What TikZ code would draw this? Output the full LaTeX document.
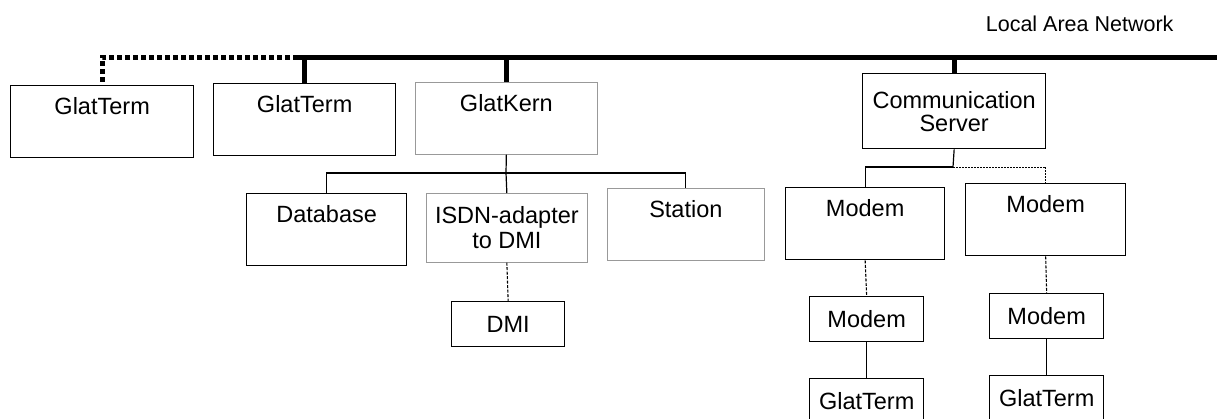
\documentclass[tikz,border=0pt]{standalone}
\usepackage{fontspec}
\setmainfont{Liberation Sans}
\usepackage{tikz}
\usetikzlibrary{positioning}

\tikzset{
  unitbox/.style={draw, line width=1.3pt, inner sep=0pt, anchor=north west},
  tallbox/.style={unitbox, text height=29pt, text depth=43pt},
  twolinebox/.style={unitbox, align=center},
  smallbox/.style={unitbox, minimum width=114pt, minimum height=45pt},
  faint/.style={draw=black!40, line width=0.7pt},
  link/.style={line width=1.2pt},
  lan/.style={line width=5pt},
  landots/.style={line width=5pt, dash pattern=on 5pt off 3pt},
  dial/.style={line width=1.1pt, dash pattern=on 3pt off 1.5pt},
  spare/.style={line width=1pt, dash pattern=on 1.5pt off 1.5pt}
}

\begin{document}
\begin{tikzpicture}[x=1pt, y=-1pt, every node/.style={font=\fontsize{23.5}{25}\selectfont}]
  \useasboundingbox (0,0) rectangle (1217,418);
  \clip (0,0) rectangle (1217,418);

  % LAN
  \coordinate (lanL) at (298,57);
  \coordinate (lanR) at (1217,57);
  \node[anchor=base east, font=\fontsize{21.5}{24}\selectfont] (lanlabel) at (1177,31) {Local Area Network};

  % first row
  \node[tallbox, minimum width=183pt] (gt1) at (10,85) {GlatTerm};
  \node[tallbox, minimum width=182pt] (gt2) at (213,83) {GlatTerm};
  \node[tallbox, faint, minimum width=182pt] (gk) at (415,82) {GlatKern};
  \node[twolinebox, minimum width=183pt, minimum height=75pt] (cs) at (862,73) {Communication\\[-2pt]Server};

  % below GlatKern
  \node[tallbox, minimum width=160pt] (db) at (246,193) {Database};
  \node[twolinebox, faint, minimum width=161pt, minimum height=69pt] (isdn) at (426,193) {ISDN-adapter\\to DMI};
  \node[tallbox, faint, minimum width=157pt] (st) at (607,188) {Station};
  \node[smallbox, minimum width=113pt] (dmi) at (451,301) {DMI};

  % below Communication Server
  \node[tallbox, minimum width=159pt] (m1) at (785,187) {Modem};
  \node[tallbox, minimum width=160pt] (m2) at (965,183) {Modem};
  \node[smallbox] (sm1) at (809,296) {Modem};
  \node[smallbox] (sm2) at (989,293) {Modem};
  \node[smallbox] (gt3) at (809,378) {GlatTerm};
  \node[smallbox] (gt4) at (989,375) {GlatTerm};

  % network
  \draw[lan] (lanL) -- (lanR);
  \draw[landots] (lanL) -| (gt1.north);
  \draw[lan] (gt2.north) -- (gt2.north |- lanL);
  \draw[lan] (gk.north) -- (gk.north |- lanL);
  \draw[lan] (cs.north) -- (cs.north |- lanL);

  % GlatKern tree
  \coordinate (kbus) at (506,173);
  \draw[link] (gk.south) -- (kbus);
  \draw[link] (db.north) |- (kbus) -| (st.north);
  \draw[link] (kbus) -- (isdn.north);
  \draw[dial] (isdn.south) -- (dmi.north);

  % Communication Server tree
  \coordinate (cbus) at (953,167);
  \draw[link] (cs.south) -- (cbus);
  \draw[link] (cbus) -| (m1.north);
  \draw[spare] (cbus) -| (m2.north);
  \draw[dial] (m1.south) -- (sm1.north);
  \draw[dial] (m2.south) -- (sm2.north);
  \draw[link] (sm1.south) -- (gt3.north);
  \draw[link] (sm2.south) -- (gt4.north);
\end{tikzpicture}
\end{document}
